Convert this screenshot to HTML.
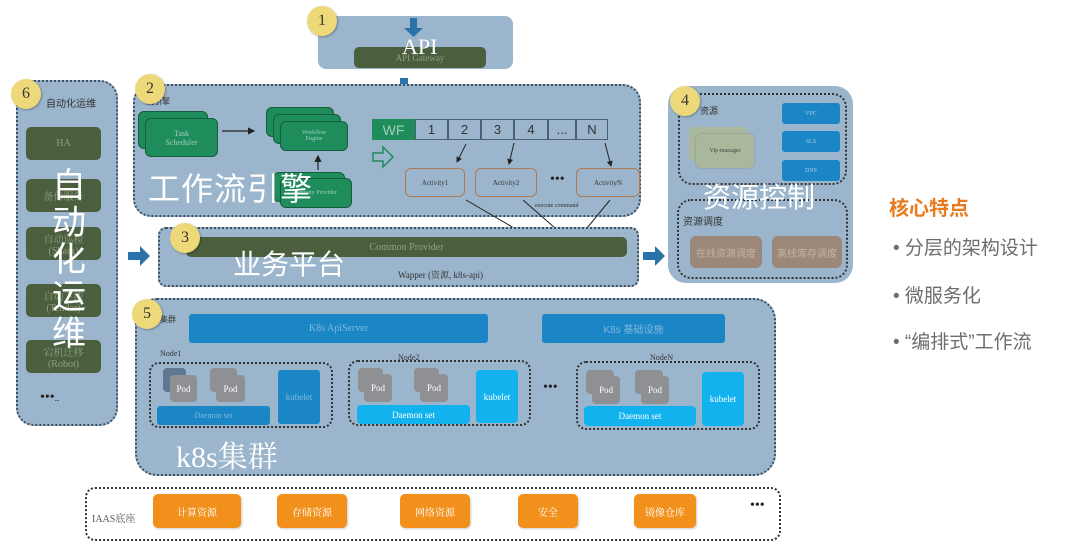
<!DOCTYPE html>
<html><head><meta charset="utf-8"><style>
*{margin:0;padding:0;box-sizing:border-box}
body{width:1080px;height:550px;background:#fff;position:relative;overflow:hidden;font-family:"Liberation Serif","Noto Serif CJK SC",serif}
.a{position:absolute}
.panel{position:absolute;background:#9bb6cc;border:2px dotted #3d4f5e;border-radius:18px}
.badge{position:absolute;width:30px;height:30px;border-radius:50%;background:#eed97a;color:#333;font-size:16px;text-align:center;line-height:30px;box-shadow:1px 1px 2px rgba(0,0,0,.3)}
.c{display:flex;align-items:center;justify-content:center;text-align:center}
.dg{background:#4b5f3e;border-radius:5px;color:#8ea080;font-size:10px}
.gr{background:#1f8c5c;border:1px solid #155c3c;border-radius:6px;color:#9fd0b8;font-size:8px}
.bl{background:#1b86c6;color:#7fb8dc;font-size:10px;border-radius:3px}
.lb{background:#12b2ee;color:#fff;font-size:9px;border-radius:4px}
.pod{background:#8f9094;border-radius:4px;color:#fff;font-size:9px}
.or{background:#f2901c;color:#fff;font-size:10px;border-radius:5px;box-shadow:1px 1px 2px rgba(0,0,0,.2)}
.nd{position:absolute;border:2px dotted #333;border-radius:10px}
.sm{font-size:8px;color:#333}
.big{color:#fff;font-family:"Liberation Sans","Noto Sans CJK SC",sans-serif}
.cell{position:absolute;top:119px;height:21px;border:1px solid #4a6070;color:#333;font-family:"Liberation Sans",sans-serif;font-size:13px}
.act{position:absolute;top:168px;height:29px;border:1.5px solid #b07a50;border-radius:6px;font-size:7px;color:#333}
.br{background:#9c8878;color:#c4b4a8;font-size:10px;border-radius:6px}
.tx{font-family:"Liberation Sans","Noto Sans CJK SC",sans-serif}
</style></head><body>

<!-- API -->
<div class="a" style="left:318px;top:16px;width:195px;height:53px;background:#9bb6cc;border-radius:8px"></div>
<div class="a c dg" style="left:354px;top:47px;width:132px;height:21px;font-size:9px">API Gateway</div>
<div class="a big" style="left:402px;top:34px;font-size:22px;font-family:'Liberation Serif',serif">API</div>
<div class="badge" style="left:307px;top:6px">1</div>
<svg class="a" style="left:0;top:0" width="1080" height="550">
<defs><marker id="m" markerWidth="6" markerHeight="6" refX="5" refY="3" orient="auto"><path d="M0,0L6,3L0,6z" fill="#222"/></marker></defs>
<path d="M410,18h7v10h6l-9.5,9l-9.5,-9h6z" fill="#2a73a8"/>
<path d="M400,78h8v12h6l-10,10l-10,-10h6z" fill="#2a73a8"/>
<path d="M128,252h12v-6l10,10l-10,10v-6h-12z" fill="#2a73a8"/>
<path d="M643,252h12v-6l10,10l-10,10v-6h-12z" fill="#2a73a8"/>
<path d="M500,328l8,-7v4h14v-4l8,7l-8,7v-4h-14v4z" fill="#2a6a98"/>
</svg>

<!-- Box 2 -->
<div class="panel" style="left:133px;top:84px;width:508px;height:133px"></div>
<div class="a sm tx" style="left:146px;top:96px">流引擎</div>
<div class="badge" style="left:135px;top:74px">2</div>
<div class="a gr" style="left:138px;top:111px;width:70px;height:38px"></div>
<div class="a c gr" style="left:145px;top:118px;width:73px;height:39px">Task<br>Scheduler</div>
<div class="a gr" style="left:266px;top:107px;width:68px;height:30px"></div>
<div class="a gr" style="left:273px;top:114px;width:68px;height:30px"></div>
<div class="a c gr" style="left:280px;top:121px;width:68px;height:30px;font-size:6px">Workflow<br>Engine</div>
<div class="a gr" style="left:273px;top:172px;width:72px;height:30px"></div>
<div class="a c gr" style="left:280px;top:178px;width:72px;height:30px;font-size:6px">Activity Provider</div>
<div class="a big" style="left:148px;top:164px;font-size:32px;letter-spacing:1px">工作流引擎</div>
<div class="a c" style="left:372px;top:119px;width:43px;height:21px;background:#1f8c5c;color:#9fd0b8;font-family:'Liberation Sans',sans-serif;font-size:14px">WF</div>
<div class="cell c" style="left:415px;width:33px">1</div>
<div class="cell c" style="left:448px;width:33px">2</div>
<div class="cell c" style="left:481px;width:33px">3</div>
<div class="cell c" style="left:514px;width:34px">4</div>
<div class="cell c" style="left:548px;width:28px">...</div>
<div class="cell c" style="left:576px;width:32px">N</div>
<div class="act c" style="left:405px;width:60px">Activity1</div>
<div class="act c" style="left:475px;width:62px">Activity2</div>
<div class="a" style="left:550px;top:172px;font-size:14px;color:#222">•••</div>
<div class="act c" style="left:576px;width:64px">ActivityN</div>
<div class="a" style="left:535px;top:203px;font-size:6px;color:#333">execute command</div>
<svg class="a" style="left:0;top:0" width="1080" height="550">
<path d="M373,153h10v-6l10,10l-10,10v-6h-10z" fill="none" stroke="#1f8c5c" stroke-width="1.5"/>
<line x1="222" y1="131" x2="254" y2="131" stroke="#222" stroke-width="1.2" marker-end="url(#m)"/>
<line x1="318" y1="170" x2="318" y2="156" stroke="#222" stroke-width="1.2" marker-end="url(#m)"/>
<line x1="466" y1="144" x2="457" y2="162" stroke="#222" marker-end="url(#m)"/>
<line x1="514" y1="143" x2="509" y2="164" stroke="#222" marker-end="url(#m)"/>
<line x1="605" y1="143" x2="611" y2="166" stroke="#222" marker-end="url(#m)"/>
<line x1="466" y1="200" x2="514" y2="228" stroke="#222"/>
<line x1="523" y1="200" x2="555" y2="228" stroke="#222"/>
<line x1="610" y1="200" x2="587" y2="228" stroke="#222"/>
<path d="M761,141h7v-5l9,9l-9,9v-5h-7z" fill="none" stroke="#a0704a" stroke-width="1.2"/>
</svg>

<!-- Box 3 -->
<div class="panel" style="left:158px;top:227px;width:481px;height:60px;border-radius:8px"></div>
<div class="a c dg" style="left:186px;top:237px;width:441px;height:20px;font-size:10px">Common Provider</div>
<div class="a big" style="left:233px;top:243px;font-size:28px">业务平台</div>
<div class="a" style="left:398px;top:268px;font-size:9px;color:#333">Wapper (资源, k8s-api)</div>
<div class="badge" style="left:170px;top:223px">3</div>

<!-- Box 4 -->
<div class="a" style="left:668px;top:86px;width:185px;height:197px;background:#9bb6cc;border-radius:18px"></div>
<div class="nd" style="left:678px;top:93px;width:169px;height:92px;border-radius:14px"></div>
<div class="nd" style="left:677px;top:199px;width:171px;height:80px;border-radius:14px"></div>
<div class="a tx" style="left:700px;top:104px;font-size:9px;color:#333">资源</div>
<div class="badge" style="left:670px;top:86px">4</div>
<div class="a c bl" style="left:782px;top:103px;width:58px;height:21px;font-size:6px;color:#a8cce4">VPC</div>
<div class="a c bl" style="left:782px;top:131px;width:58px;height:21px;font-size:6px;color:#a8cce4">SLS</div>
<div class="a c bl" style="left:782px;top:160px;width:58px;height:21px;font-size:6px;color:#a8cce4">DNS</div>
<div class="a" style="left:689px;top:127px;width:58px;height:34px;background:#a9b89a;border-radius:5px"></div>
<div class="a c" style="left:696px;top:134px;width:58px;height:34px;background:#a9b89a;border-radius:5px;font-size:6px;color:#444;box-shadow:0 0 2px #889">Vip-manager</div>
<div class="a big" style="left:703px;top:176px;font-size:28px">资源控制</div>
<div class="a tx" style="left:683px;top:213px;font-size:10px;color:#333">资源调度</div>
<div class="a c br tx" style="left:690px;top:236px;width:72px;height:32px">在线资源调度</div>
<div class="a c br tx" style="left:772px;top:236px;width:70px;height:32px">离线库存调度</div>

<!-- Right text -->
<div class="a tx" style="left:889px;top:192px;font-size:20px;font-weight:bold;color:#ea7a1e">核心特点</div>
<div class="a tx" style="left:893px;top:233px;font-size:19px;color:#6d6d6d">• 分层的架构设计</div>
<div class="a tx" style="left:893px;top:281px;font-size:19px;color:#6d6d6d">• 微服务化</div>
<div class="a tx" style="left:893px;top:327px;font-size:19px;color:#6d6d6d">• “编排式”工作流</div>

<!-- Box 6 -->
<div class="panel" style="left:16px;top:80px;width:102px;height:346px"></div>
<div class="a tx" style="left:46px;top:95px;font-size:10px;color:#333">自动化运维</div>
<div class="badge" style="left:11px;top:79px">6</div>
<div class="a c dg" style="left:26px;top:127px;width:75px;height:33px">HA</div>
<div class="a c dg" style="left:26px;top:179px;width:75px;height:33px">备份服务</div>
<div class="a c dg" style="left:26px;top:227px;width:75px;height:33px">自动巡检<br>(Shark)</div>
<div class="a c dg" style="left:26px;top:284px;width:75px;height:33px">自动下线<br>(Tender)</div>
<div class="a c dg" style="left:26px;top:340px;width:75px;height:33px">宕机迁移<br>(Robot)</div>
<div class="a" style="left:40px;top:390px;font-size:14px;color:#222">•••<span style="font-size:9px">..</span></div>
<div class="a big" style="left:52px;top:168px;font-size:34px;line-height:37px;width:36px">自<br>动<br>化<br>运<br>维</div>

<!-- Box 5 -->
<div class="panel" style="left:135px;top:298px;width:641px;height:178px;border-radius:22px"></div>
<div class="a tx" style="left:160px;top:314px;font-size:8px;color:#333">集群</div>
<div class="badge" style="left:132px;top:299px">5</div>
<div class="a c bl" style="left:189px;top:314px;width:299px;height:29px">K8s  ApiServer</div>
<div class="a c bl tx" style="left:542px;top:314px;width:183px;height:29px">K8s  基础设施</div>
<div class="a sm" style="left:160px;top:349px">Node1</div>
<div class="a sm" style="left:398px;top:353px">Node2</div>
<div class="a sm" style="left:650px;top:353px">NodeN</div>
<div class="nd" style="left:149px;top:362px;width:184px;height:66px"></div>
<div class="nd" style="left:348px;top:360px;width:183px;height:66px"></div>
<div class="nd" style="left:576px;top:361px;width:184px;height:69px"></div>
<!-- node1 -->
<div class="a pod" style="left:163px;top:368px;width:23px;height:24px;background:#5d7890"></div>
<div class="a c pod" style="left:170px;top:375px;width:27px;height:27px">Pod</div>
<div class="a pod" style="left:210px;top:368px;width:27px;height:24px"></div>
<div class="a c pod" style="left:216px;top:375px;width:29px;height:27px">Pod</div>
<div class="a c bl" style="left:157px;top:406px;width:113px;height:19px;font-size:8px">Daemon set</div>
<div class="a c bl" style="left:278px;top:370px;width:42px;height:54px;font-size:9px">kubelet</div>
<!-- node2 -->
<div class="a pod" style="left:358px;top:368px;width:25px;height:24px"></div>
<div class="a c pod" style="left:364px;top:374px;width:28px;height:28px">Pod</div>
<div class="a pod" style="left:414px;top:368px;width:25px;height:24px"></div>
<div class="a c pod" style="left:420px;top:374px;width:28px;height:28px">Pod</div>
<div class="a c lb" style="left:357px;top:405px;width:113px;height:19px">Daemon set</div>
<div class="a c lb" style="left:476px;top:370px;width:42px;height:53px">kubelet</div>
<div class="a" style="left:543px;top:380px;font-size:14px;color:#222">•••</div>
<!-- nodeN -->
<div class="a pod" style="left:586px;top:370px;width:28px;height:24px"></div>
<div class="a c pod" style="left:592px;top:376px;width:28px;height:28px">Pod</div>
<div class="a pod" style="left:635px;top:370px;width:28px;height:24px"></div>
<div class="a c pod" style="left:641px;top:376px;width:28px;height:28px">Pod</div>
<div class="a c lb" style="left:584px;top:406px;width:112px;height:20px">Daemon set</div>
<div class="a c lb" style="left:702px;top:372px;width:42px;height:54px">kubelet</div>
<div class="a big" style="left:176px;top:432px;font-size:30px;font-family:'Liberation Serif','Noto Serif CJK SC',serif">k8s集群</div>

<!-- IAAS -->
<div class="nd" style="left:85px;top:487px;width:696px;height:54px;border-radius:10px"></div>
<div class="a" style="left:92px;top:510px;font-size:10px;color:#555">IAAS底座</div>
<div class="a c or" style="left:153px;top:494px;width:88px;height:34px">计算资源</div>
<div class="a c or" style="left:277px;top:494px;width:70px;height:34px">存储资源</div>
<div class="a c or" style="left:400px;top:494px;width:70px;height:34px">网络资源</div>
<div class="a c or" style="left:518px;top:494px;width:60px;height:34px">安全</div>
<div class="a c or" style="left:634px;top:494px;width:62px;height:34px">镜像仓库</div>
<div class="a" style="left:750px;top:498px;font-size:14px;color:#222">•••</div>
</body></html>
